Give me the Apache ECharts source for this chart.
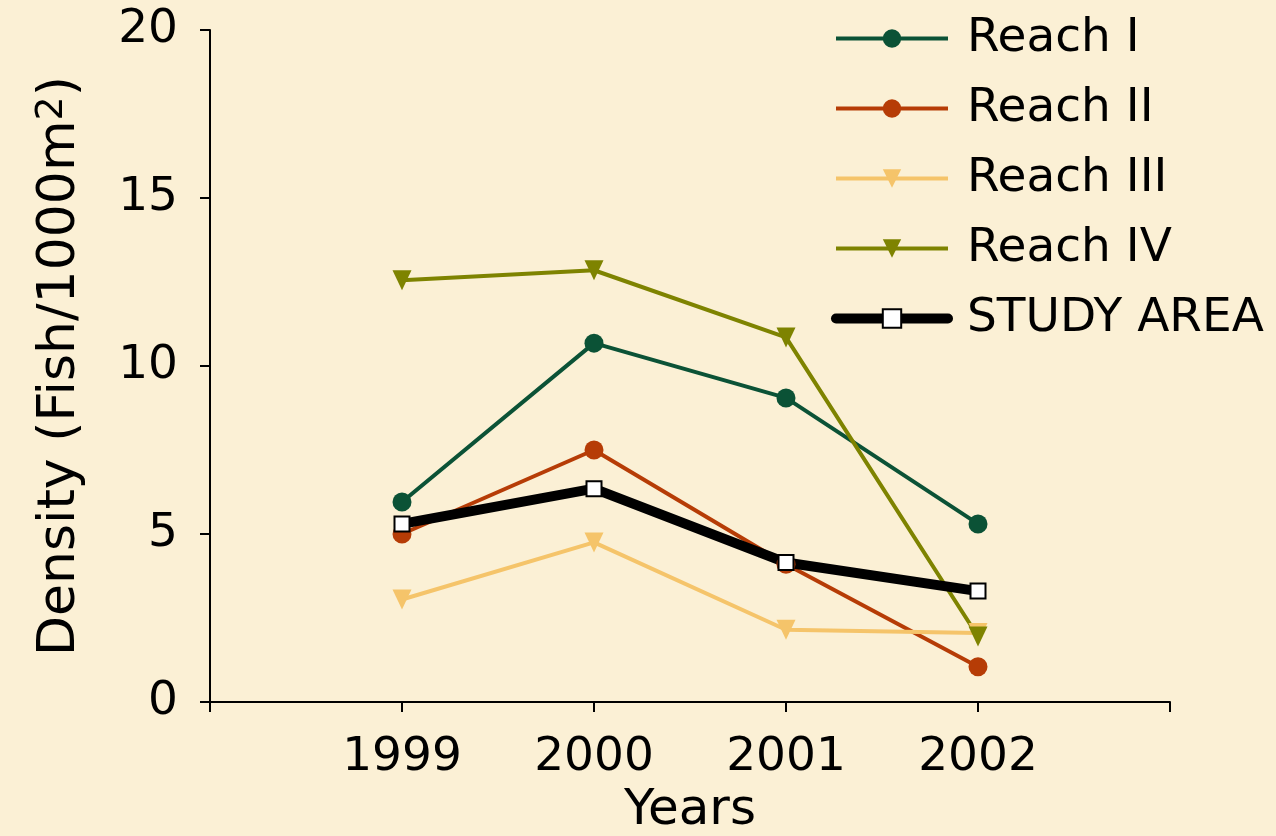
<!DOCTYPE html>
<html>
<head>
<meta charset="utf-8">
<script src="https://cdn.jsdelivr.net/npm/echarts@6/dist/echarts.min.js"></script>
<style>
  html, body { margin: 0; padding: 0; background: #fbf0d5; }
  #chart { width: 1276px; height: 836px; }
</style>
</head>
<body>
<div id="chart"></div>
<script>
// 数据
var years = [1999, 2000, 2001, 2002];
var reach1 = [5.95, 10.68, 9.05, 5.3];
var reach2 = [5.0, 7.5, 4.1, 1.05];
var reach3 = [3.05, 4.75, 2.15, 2.05];
var reach4 = [12.55, 12.85, 10.85, 1.95];
var studyArea = [5.3, 6.35, 4.15, 3.3];
var yTicks = [0, 5, 10, 15, 20];

var FONT = 'DejaVu Sans';
var C1 = '#0b5236', C2 = '#b63c06', C3 = '#f5c46a', C4 = '#7e8300';

function pairs(vals) {
  return years.map(function (y, i) { return [y, vals[i]]; });
}

(function () {
  var myChart = echarts.init(document.getElementById('chart'));

  var option = {
    backgroundColor: '#fbf0d5',
    animation: false,
    grid: { left: 210, right: 106, top: 30, bottom: 134, outerBoundsMode: 'none' },
    // 图例
    legend: {
      orient: 'vertical',
      left: 826,
      top: 10,
      itemWidth: 112,
      itemHeight: 23,
      itemGap: 23,
      textStyle: { fontFamily: FONT, fontSize: 47, color: '#000', padding: [0, 0, 0, 14] },
      data: [
        { name: 'Reach I', lineStyle: { width: 4 } },
        { name: 'Reach II', lineStyle: { width: 4 } },
        { name: 'Reach III', lineStyle: { width: 4 } },
        { name: 'Reach IV', lineStyle: { width: 4 } },
        { name: 'STUDY AREA', lineStyle: { width: 10, cap: 'round' } }
      ]
    },
    xAxis: {
      type: 'value',
      min: 1998,
      max: 2003,
      interval: 1,
      name: 'Years',
      nameLocation: 'middle',
      nameGap: 84,
      nameTextStyle: { fontFamily: FONT, fontSize: 50, color: '#000' },
      axisLine: { lineStyle: { color: '#000', width: 2 } },
      axisTick: { length: 10, lineStyle: { color: '#000', width: 2 } },
      axisLabel: {
        fontFamily: FONT, fontSize: 47, color: '#000', margin: 32,
        formatter: function (v) { return years.indexOf(v) >= 0 ? String(v) : ''; }
      },
      splitLine: { show: false }
    },
    yAxis: {
      type: 'value',
      min: yTicks[0],
      max: yTicks[yTicks.length - 1],
      interval: 5,
      name: '{a|Density (Fish/1000m}{b|2}{a|)}',
      nameLocation: 'middle',
      nameGap: 123,
      nameRotate: 90,
      nameTextStyle: {
        rich: {
          a: { fontFamily: FONT, fontSize: 52, color: '#000' },
          b: { fontFamily: FONT, fontSize: 38, color: '#000', verticalAlign: 'top', padding: [0, 0, 16, 0] }
        }
      },
      axisLine: { show: true, lineStyle: { color: '#000', width: 2 } },
      axisTick: { show: true, length: 10, lineStyle: { color: '#000', width: 2 } },
      axisLabel: { fontFamily: FONT, fontSize: 47, color: '#000', margin: 32 },
      splitLine: { show: false }
    },
    series: [
      {
        name: 'Reach I', type: 'line', data: pairs(reach1),
        symbol: 'circle', symbolSize: 19,
        lineStyle: { color: C1, width: 4 },
        itemStyle: { color: C1 }
      },
      {
        name: 'Reach II', type: 'line', data: pairs(reach2),
        symbol: 'circle', symbolSize: 19,
        lineStyle: { color: C2, width: 4 },
        itemStyle: { color: C2 }
      },
      {
        name: 'Reach III', type: 'line', data: pairs(reach3),
        symbol: 'triangle', symbolRotate: 180, symbolSize: [19, 20],
        lineStyle: { color: C3, width: 4 },
        itemStyle: { color: C3 }
      },
      {
        name: 'Reach IV', type: 'line', data: pairs(reach4),
        symbol: 'triangle', symbolRotate: 180, symbolSize: [19, 20],
        lineStyle: { color: C4, width: 4 },
        itemStyle: { color: C4 }
      },
      {
        name: 'STUDY AREA', type: 'line', data: pairs(studyArea),
        symbol: 'rect', symbolSize: 15,
        lineStyle: { color: '#000', width: 10 },
        itemStyle: { color: '#fff', borderColor: '#000', borderWidth: 2 }
      }
    ]
  };

  myChart.setOption(option);
})();
</script>
</body>
</html>
